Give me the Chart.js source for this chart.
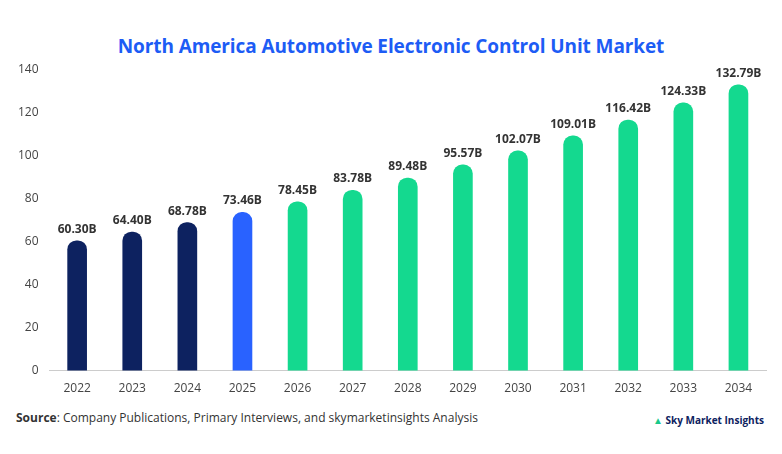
<!DOCTYPE html>
<html>
<head>
<meta charset="utf-8">
<script src="https://cdn.jsdelivr.net/npm/chart.js@4"></script>
<style>
  body { margin: 0; width: 782px; height: 454px; background: #fff; font-family: 'Open Sans', sans-serif; position: relative; overflow: hidden; }
  h1 { position: absolute; top: 33px; left: 0; width: 782px; margin: 0; text-align: center; font: bold 19px 'Open Sans', sans-serif; letter-spacing: -0.1px; color: #1d5cf5; }
  #wrap { position: absolute; left: 15px; top: 59px; width: 762px; height: 340px; }
  #src { position: absolute; left: 16px; top: 409px; font-size: 12px; color: #333; }
  #logo { position: absolute; right: 18px; top: 413px; font: bold 10px 'Open Sans', sans-serif; color: #0d2260; }
  #logo span { color: #19c98a; }
</style>
</head>
<body>
<h1>North America Automotive Electronic Control Unit Market</h1>
<div id="wrap"><canvas id="c"></canvas></div>
<div id="src"><b>Source</b>: Company Publications, Primary Interviews, and skymarketinsights Analysis</div>
<div id="logo"><span>&#9650;</span> Sky Market Insights</div>
<script>
// chart data
const years = ['2022','2023','2024','2025','2026','2027','2028','2029','2030','2031','2032','2033','2034'];
const values = [60.30, 64.40, 68.78, 73.46, 78.45, 83.78, 89.48, 95.57, 102.07, 109.01, 116.42, 124.33, 132.79];
const barColors = years.map(y => y < '2025' ? '#0d2260' : (y === '2025' ? '#2962ff' : '#14d98f'));

const valueLabels = {
    id: 'valueLabels',
    afterDatasetsDraw(chart) {
        const { ctx } = chart;
        ctx.save();
        ctx.font = 'bold 12px "Open Sans", sans-serif';
        ctx.fillStyle = '#333';
        ctx.textAlign = 'center';
        chart.getDatasetMeta(0).data.forEach((bar, i) => {
            ctx.fillText(values[i].toFixed(2) + 'B', bar.x, bar.y - 8);
        });
        ctx.restore();
    }
};

new Chart(document.getElementById('c'), {
    type: 'bar',
    data: {
        labels: years,
        datasets: [{
            data: values,
            backgroundColor: barColors,
            borderRadius: { topLeft: 9, topRight: 9 },
            borderSkipped: 'bottom',
            barThickness: 19
        }]
    },
    options: {
        responsive: true,
        maintainAspectRatio: false,
        animation: false,
        layout: { padding: { top: 0, right: 11 } },
        plugins: { legend: { display: false }, tooltip: { enabled: false } },
        scales: {
            x: {
                grid: { display: false },
                border: { color: '#ccc' },
                ticks: { color: '#444', font: { family: 'Open Sans', size: 12 } }
            },
            y: {
                min: 0, max: 140,
                ticks: { stepSize: 20, color: '#444', font: { family: 'Open Sans', size: 12 } },
                grid: { display: false },
                border: { display: false }
            }
        }
    },
    plugins: [valueLabels]
});
</script>
</body>
</html>
